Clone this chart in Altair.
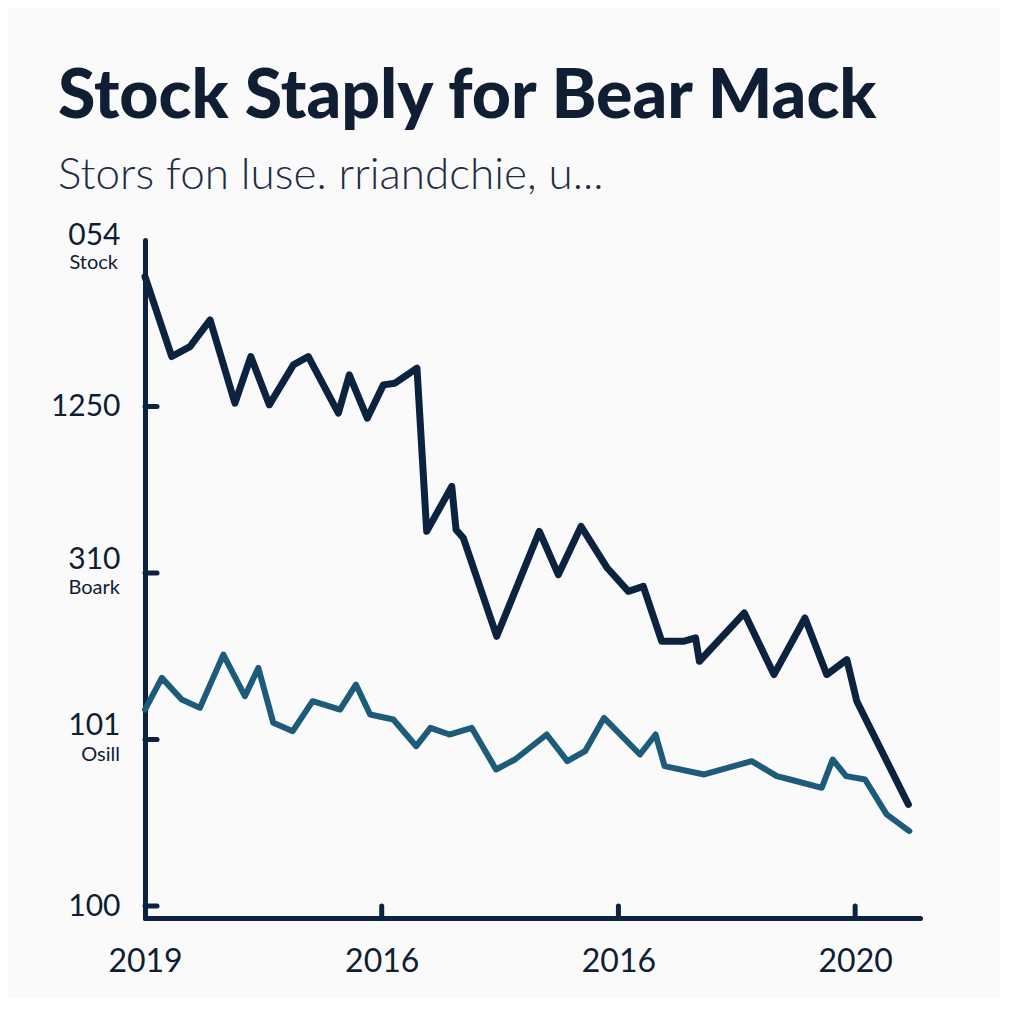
import json
import altair as alt
import pandas as pd

title_text = "Stock Staply for Bear Mack"
subtitle_text = "Stors fon luse. rriandchie, u..."

# dark series (x in tick units, y in label-slot units)
stock_t = [0.000, 0.113, 0.190, 0.275, 0.380, 0.447, 0.525, 0.627, 0.690, 0.817,
           0.863, 0.939, 1.007, 1.056, 1.149, 1.190, 1.296, 1.314, 1.345, 1.486,
           1.666, 1.746, 1.842, 1.953, 2.042, 2.105, 2.183, 2.274, 2.326, 2.342,
           2.532, 2.657, 2.788, 2.880, 2.965, 3.007, 3.225]
stock_v = [3.78, 3.30, 3.36, 3.52, 3.02, 3.30, 3.01, 3.25, 3.30, 2.96,
           3.19, 2.93, 3.13, 3.14, 3.23, 2.25, 2.52, 2.26, 2.21, 1.62,
           2.25, 1.99, 2.28, 2.03, 1.89, 1.92, 1.59, 1.59, 1.61, 1.47,
           1.76, 1.39, 1.73, 1.39, 1.48, 1.23, 0.61]

# teal series
bear_t = [0.000, 0.071, 0.155, 0.232, 0.331, 0.422, 0.479, 0.542, 0.624, 0.708,
          0.824, 0.891, 0.951, 1.049, 1.146, 1.206, 1.286, 1.380, 1.483, 1.563,
          1.697, 1.784, 1.859, 1.939, 2.091, 2.157, 2.195, 2.362, 2.563, 2.669,
          2.725, 2.859, 2.905, 2.962, 3.042, 3.133, 3.229]
bear_v = [1.18, 1.37, 1.24, 1.19, 1.51, 1.26, 1.43, 1.10, 1.05, 1.23,
          1.18, 1.33, 1.15, 1.12, 0.96, 1.07, 1.03, 1.07, 0.82, 0.88,
          1.03, 0.87, 0.93, 1.13, 0.91, 1.03, 0.84, 0.79, 0.87, 0.78,
          0.76, 0.71, 0.88, 0.78, 0.76, 0.55, 0.45]

x_ticks = [0, 1, 2, 3]
x_labels = ["2019", "2016", "2016", "2020"]
y_ticks = [0, 1, 2, 3, 4]
y_labels = ["100", "101", "310", "1250", "054"]
y_sub_top_vals = [4]
y_sub_top_labels = ["Stock"]
y_sub_vals = [2, 1]
y_sub_labels = ["Boark", "Osill"]
inner_x_ticks = [1, 2, 3]
inner_y_ticks = [0, 1, 2, 3]

NAVY = "#0c2340"
TEAL = "#1c5b7a"
INK = "#0f1e33"
FONT = "Lato"

W, H = 775, 678

lines = pd.DataFrame(
    [{"series": "Stock", "t": t, "v": v} for t, v in zip(stock_t, stock_v)]
    + [{"series": "Bear", "t": t, "v": v} for t, v in zip(bear_t, bear_v)]
)

xscale = alt.Scale(domain=[0, 3.274], nice=False, zero=False)
yscale = alt.Scale(domain=[-0.072, 4.0], nice=False, zero=False)

x_axis = alt.Axis(
    values=x_ticks,
    labelExpr=json.dumps(x_labels) + "[datum.value]",
    title=None, grid=False, ticks=False,
    domainColor=NAVY, domainWidth=5, domainCap="round",
    labelFont=FONT, labelFontSize=32, labelColor=INK, labelPadding=28,
    labelFlush=False,
)
y_axis = alt.Axis(
    values=y_ticks,
    labelExpr=json.dumps(y_labels) + "[datum.value]",
    title=None, grid=False, ticks=False,
    domainColor=NAVY, domainWidth=5, domainCap="round",
    labelFont=FONT, labelFontSize=30, labelColor=INK, labelPadding=25,
    labelBaseline={"condition": {"test": "datum.value == 1 || datum.value == 2", "value": "alphabetic"}, "value": "middle"},
    labelOffset={"condition": {"test": "datum.value == 0 || datum.value == 3", "value": 0}, "value": -5},
    labelFlush=False,
)

base = alt.Chart(lines)

line_layer = base.mark_line(strokeCap="round", strokeJoin="round").encode(
    x=alt.X("t:Q", scale=xscale, axis=x_axis),
    y=alt.Y("v:Q", scale=yscale, axis=y_axis),
    color=alt.Color("series:N", scale=alt.Scale(domain=["Stock", "Bear"], range=[NAVY, TEAL]), legend=None),
    strokeWidth=alt.StrokeWidth("series:N", scale=alt.Scale(domain=["Stock", "Bear"], range=[7, 6]), legend=None),
    detail="series:N",
)

xt = alt.Chart(pd.DataFrame({"t": inner_x_ticks})).mark_rule(color=NAVY, strokeWidth=5, strokeCap="round").encode(
    x=alt.X("t:Q", scale=xscale), y=alt.value(H), y2=alt.value(H - 12)
)
yt = alt.Chart(pd.DataFrame({"v": inner_y_ticks})).mark_rule(color=NAVY, strokeWidth=5, strokeCap="round").encode(
    y=alt.Y("v:Q", scale=yscale), x=alt.value(0), x2=alt.value(12)
)

sub_top = alt.Chart(pd.DataFrame({"v": y_sub_top_vals, "lab": y_sub_top_labels})).mark_text(
    font=FONT, fontSize=20, color=INK, align="right", baseline="top", dy=13
).encode(y=alt.Y("v:Q", scale=yscale), x=alt.value(-27), text="lab:N")
sub = alt.Chart(pd.DataFrame({"v": y_sub_vals, "lab": y_sub_labels})).mark_text(
    font=FONT, fontSize=20, color=INK, align="right", baseline="top", dy=5
).encode(y=alt.Y("v:Q", scale=yscale), x=alt.value(-25), text="lab:N")

chart = alt.layer(line_layer, xt, yt, sub_top, sub).properties(
    width=W, height=H,
    autosize=alt.AutoSizeParams(type="none"),
    padding={"left": 137, "top": 232, "right": 80, "bottom": 80},
    background="#fafafa",
    title=alt.TitleParams(
        text=title_text, subtitle=subtitle_text,
        anchor="start", frame="group", dx=-87, offset=22,
        font=FONT, fontSize=68, fontWeight=900, color=INK,
        subtitleFont=FONT, subtitleFontSize=44, subtitleFontWeight=300,
        subtitleColor="#1d2d44", subtitlePadding=22,
    ),
).configure_view(stroke=None)

chart.save("out.html", embed_options={"renderer": "svg", "actions": False})
